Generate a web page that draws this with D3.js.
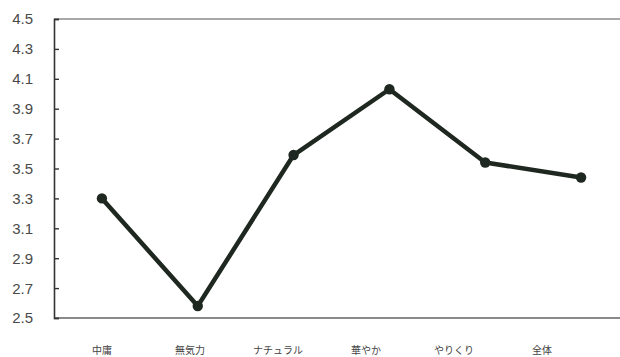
<!DOCTYPE html>
<html>
<head>
<meta charset="utf-8">
<script src="https://cdn.jsdelivr.net/npm/d3@7"></script>
<style>
  html, body { margin: 0; padding: 0; background: #fff; }
  svg { display: block; }
</style>
</head>
<body>
<svg id="chart" width="620" height="357"></svg>
<script>
// Category names and mean scores
const categories = ["中庸", "無気力", "ナチュラル", "華やか", "やりくり", "全体"];
const scores = [3.30, 2.58, 3.59, 4.03, 3.54, 3.44];
const yTicks = [2.5, 2.7, 2.9, 3.1, 3.3, 3.5, 3.7, 3.9, 4.1, 4.3, 4.5];

const svg = d3.select("#chart");
const plot = { left: 54, right: 629, top: 19, bottom: 318 };

const x = d3.scaleBand().domain(categories).range([plot.left, plot.right]);
// category captions run on their own, slightly tighter spacing
const xLabel = d3.scaleBand().domain(categories).range([58, 586]);
const y = d3.scaleLinear().domain([2.5, 4.5]).range([plot.bottom, plot.top]);

// frame: grey top and bottom rules
svg.append("line")
  .attr("x1", plot.left).attr("x2", 620)
  .attr("y1", y(4.5)).attr("y2", y(4.5))
  .attr("stroke", "#a8a8a8").attr("stroke-width", 2);
svg.append("line")
  .attr("x1", plot.left).attr("x2", 620)
  .attr("y1", y(2.5)).attr("y2", y(2.5))
  .attr("stroke", "#8a8a8a").attr("stroke-width", 2);

// y axis with inward ticks
const yAxis = d3.axisRight(y).tickValues(yTicks).tickSize(5).tickFormat("");
const gy = svg.append("g").attr("transform", `translate(${plot.left},0)`).call(yAxis);
gy.select(".domain").attr("stroke", "#333").attr("stroke-width", 1.6);
gy.selectAll(".tick line").attr("stroke", "#333").attr("stroke-width", 1.4);

// y tick labels
svg.append("g").selectAll("text")
  .data(yTicks)
  .join("text")
  .attr("x", 33)
  .attr("y", d => y(d))
  .attr("dy", "0.36em")
  .attr("text-anchor", "end")
  .attr("font-family", "'Liberation Sans', Arial, sans-serif")
  .attr("font-size", 15)
  .attr("fill", "#4a4a4a")
  .text(d => d3.format(".1f")(d));

// x category labels
svg.append("g").selectAll("text")
  .data(categories)
  .join("text")
  .attr("x", d => xLabel(d) + xLabel.bandwidth() / 2)
  .attr("y", 350)
  .attr("dy", "0.36em")
  .attr("text-anchor", "middle")
  .attr("font-family", "'Noto Sans CJK JP', sans-serif")
  .attr("font-size", 10)
  .attr("fill", "#444")
  .text(d => d);

// series line
const cx = d => x(d) + x.bandwidth() / 2;
const line = d3.line()
  .x((d, i) => cx(categories[i]))
  .y(d => y(d));

svg.append("path")
  .datum(scores)
  .attr("d", line)
  .attr("fill", "none")
  .attr("stroke", "#1f2820")
  .attr("stroke-width", 4.5)
  .attr("stroke-linejoin", "round");

svg.append("g").selectAll("circle")
  .data(scores)
  .join("circle")
  .attr("cx", (d, i) => cx(categories[i]))
  .attr("cy", d => y(d))
  .attr("r", 5.2)
  .attr("fill", "#1f2820");
</script>
</body>
</html>
